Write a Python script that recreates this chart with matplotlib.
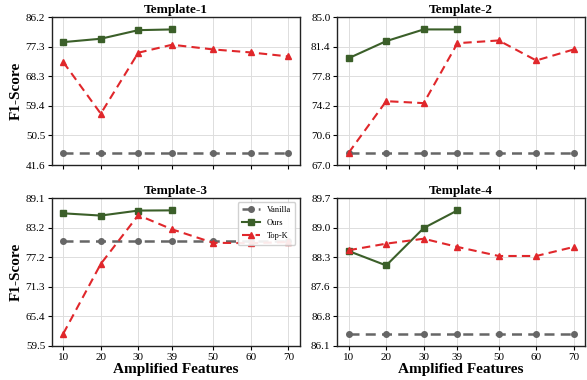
import numpy as np
import matplotlib
matplotlib.use("Agg")
import matplotlib.pyplot as plt

plt.rcParams['font.family'] = ['Liberation Serif', 'DejaVu Serif']

x_vals = [10, 20, 30, 39, 50, 60, 70]
x_ours = [10, 20, 30, 39]
titles = ["Template-1", "Template-2", "Template-3", "Template-4"]

vanilla = [45.28, 68.54, 80.40, 86.42]
ours = [
    [78.65, 79.67, 82.26, 82.48],
    [80.02, 82.09, 83.51, 83.51],
    [86.02, 85.57, 86.57, 86.61],
    [88.43, 88.08, 88.99, 89.42],
]
topk = [
    [72.62, 57.06, 75.45, 77.86, 76.44, 75.54, 74.33],
    [68.54, 74.80, 74.56, 81.84, 82.17, 79.74, 81.08],
    [61.95, 75.90, 85.65, 82.82, 80.12, 80.06, 80.26],
    [88.45, 88.61, 88.73, 88.53, 88.31, 88.31, 88.53],
]

c_van = '#666666'
c_ours = '#3b5f29'
c_topk = '#e0272b'

fig, axes = plt.subplots(2, 2, figsize=(5.87, 3.8), dpi=100)
fig.subplots_adjust(left=0.0886, right=0.9966, top=0.955, bottom=0.0895,
                    wspace=0.153, hspace=0.223)

for i, ax in enumerate(axes.flat):
    ax.plot(x_vals, [vanilla[i]] * len(x_vals), color=c_van, linestyle='--',
            marker='o', markersize=4, linewidth=1.8, label='Vanilla', dashes=(4, 2.5))
    ax.plot(x_ours, ours[i], color=c_ours, linestyle='-', marker='s',
            markersize=4.5, linewidth=1.5, label='Ours')
    ax.plot(x_vals, topk[i], color=c_topk, linestyle='--', marker='^',
            markersize=5, linewidth=1.5, label='Top-K', dashes=(4, 2.5))
    allv = [vanilla[i]] + ours[i] + topk[i]
    lo, hi = min(allv), max(allv)
    r = hi - lo
    ylo, yhi = lo - 0.1 * r, hi + 0.1 * r
    ax.set_ylim(ylo, yhi)
    ticks = np.linspace(ylo, yhi, 6)
    ax.set_yticks(ticks)
    ax.set_yticklabels([f"{t:.1f}" for t in ticks])
    ax.set_xticks(x_vals)
    ax.set_xlim(7, 73)
    ax.grid(True, color='#dddddd', linewidth=0.7)
    ax.set_axisbelow(True)
    ax.tick_params(labelsize=8, length=3, width=0.8, pad=2)
    for s in ax.spines.values():
        s.set_linewidth(1.0)
        s.set_color('#222222')
    ax.set_title(titles[i], fontsize=9.5, fontweight='bold', pad=3)
    if i < 2:
        ax.set_xticklabels([])
    else:
        ax.set_xticklabels([str(v) for v in x_vals])
        ax.set_xlabel('Amplified Features', fontsize=11, fontweight='bold', labelpad=1)
    if i % 2 == 0:
        ax.set_ylabel('F1-Score', fontsize=11, fontweight='bold', labelpad=2)
    if i == 2:
        ax.legend(loc='upper right', fontsize=6, handlelength=2.2, framealpha=0.9,
                  borderpad=0.5, labelspacing=0.6)

fig.savefig('out.png', dpi=100)
